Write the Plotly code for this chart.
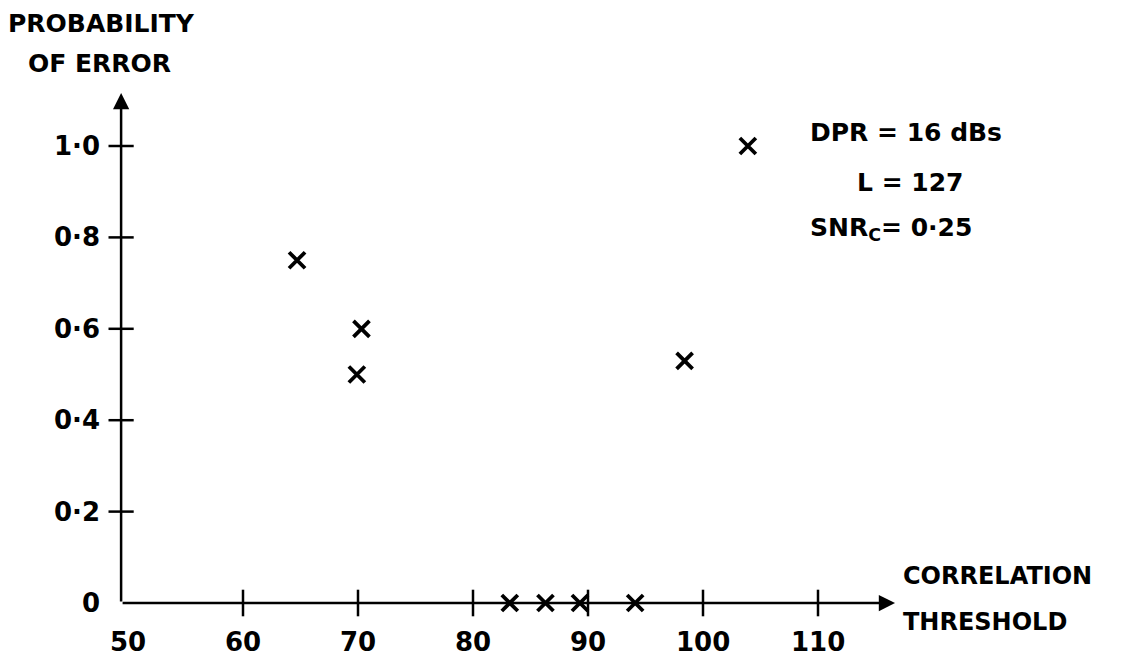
import plotly.graph_objects as go

# Data
threshold = [64.7, 69.9, 70.3, 83.2, 86.3, 89.3, 94.1, 98.4, 103.9]
p_error = [0.75, 0.50, 0.60, 0.0, 0.0, 0.0, 0.0, 0.53, 1.0]

x_ticks = [60, 70, 80, 90, 100, 110]
x_label_vals = [50, 60, 70, 80, 90, 100, 110]
x_tick_labels = ["50", "60", "70", "80", "90", "100", "110"]
y_ticks = [0.2, 0.4, 0.6, 0.8, 1.0]
y_label_vals = [0, 0.2, 0.4, 0.6, 0.8, 1.0]
y_tick_labels = ["0", "0·2", "0·4", "0·6", "0·8", "1·0"]

W, H = 1121, 661
OFF = 8  # page body margin offset
# pixel calibration (x: 50 -> 128px, 11.5 px/unit ; y: 0 -> 603px, 457 px/unit) in page pixels
x0_px, x_scale = 128.0 - OFF, 11.5
y0_px, y_scale = 603.0 - OFF, 457.0
x_range = [50 - x0_px / x_scale, 50 + (W - x0_px) / x_scale]
y_range = [-(H - y0_px) / y_scale, y0_px / y_scale]

FONT = "DejaVu Sans"
BLACK = "#000000"

fig = go.Figure()

# tick marks on the x axis (crossing)
fig.add_trace(go.Scatter(
    x=x_ticks, y=[0] * len(x_ticks), mode="markers",
    marker=dict(symbol="line-ns-open", size=19, color=BLACK, line=dict(color=BLACK, width=2.5)),
    hoverinfo="skip", showlegend=False))
# tick marks on the y axis (crossing)
fig.add_trace(go.Scatter(
    x=[49.4] * len(y_ticks), y=y_ticks, mode="markers",
    marker=dict(symbol="line-ew-open", size=18, color=BLACK, line=dict(color=BLACK, width=2.5)),
    hoverinfo="skip", showlegend=False))

# data points
fig.add_trace(go.Scatter(
    x=threshold, y=p_error, mode="markers",
    marker=dict(symbol="x-thin-open", size=16, color=BLACK, line=dict(color=BLACK, width=3.8)),
    showlegend=False))

annotations = []
# axes with arrows
annotations.append(dict(x=116.7, y=0, ax=49.4, ay=0, xref="x", yref="y", axref="x", ayref="y",
                        text="", showarrow=True, arrowhead=2, arrowsize=1.3, arrowwidth=2.5,
                        arrowcolor=BLACK, standoff=0, startstandoff=0))
annotations.append(dict(x=49.4, y=1.116, ax=49.4, ay=0, xref="x", yref="y", axref="x", ayref="y",
                        text="", showarrow=True, arrowhead=2, arrowsize=1.3, arrowwidth=2.5,
                        arrowcolor=BLACK, standoff=0, startstandoff=0))

TICKFONT = dict(family=FONT, size=26, color=BLACK, weight="bold")
# x tick labels
for v, t in zip(x_label_vals, x_tick_labels):
    annotations.append(dict(x=v, y=-0.085, xref="x", yref="y", text=t, showarrow=False,
                            xanchor="center", yanchor="middle", font=TICKFONT))
# y tick labels
for v, t in zip(y_label_vals, y_tick_labels):
    annotations.append(dict(x=47.7, y=v, xref="x", yref="y", text=t, showarrow=False,
                            xanchor="right", yanchor="middle", font=TICKFONT))

def ptext(px, py, text, size=24, anchor="left"):
    px -= OFF
    py -= OFF
    annotations.append(dict(x=px / W, y=1 - py / H, xref="paper", yref="paper", text=text,
                            showarrow=False, xanchor=anchor, yanchor="middle",
                            font=dict(family=FONT, size=size, color=BLACK, weight="bold")))

ptext(6, 23, "PROBABILITY", size=25)
ptext(26, 63, "OF ERROR", size=25)
ptext(901, 576, "CORRELATION", size=24)
ptext(901, 622, "THRESHOLD", size=24)
ptext(808, 133, "DPR = 16 dBs", size=25)
ptext(855, 183, "L = 127", size=25)
ptext(808, 229, "SNR<sub>C</sub>= 0·25", size=25)

fig.update_layout(
    width=W, height=H,
    margin=dict(l=0, r=0, t=0, b=0),
    paper_bgcolor="white", plot_bgcolor="white",
    xaxis=dict(range=x_range, visible=False, fixedrange=True),
    yaxis=dict(range=y_range, visible=False, fixedrange=True),
    annotations=annotations,
)

fig.write_html("out.html")
